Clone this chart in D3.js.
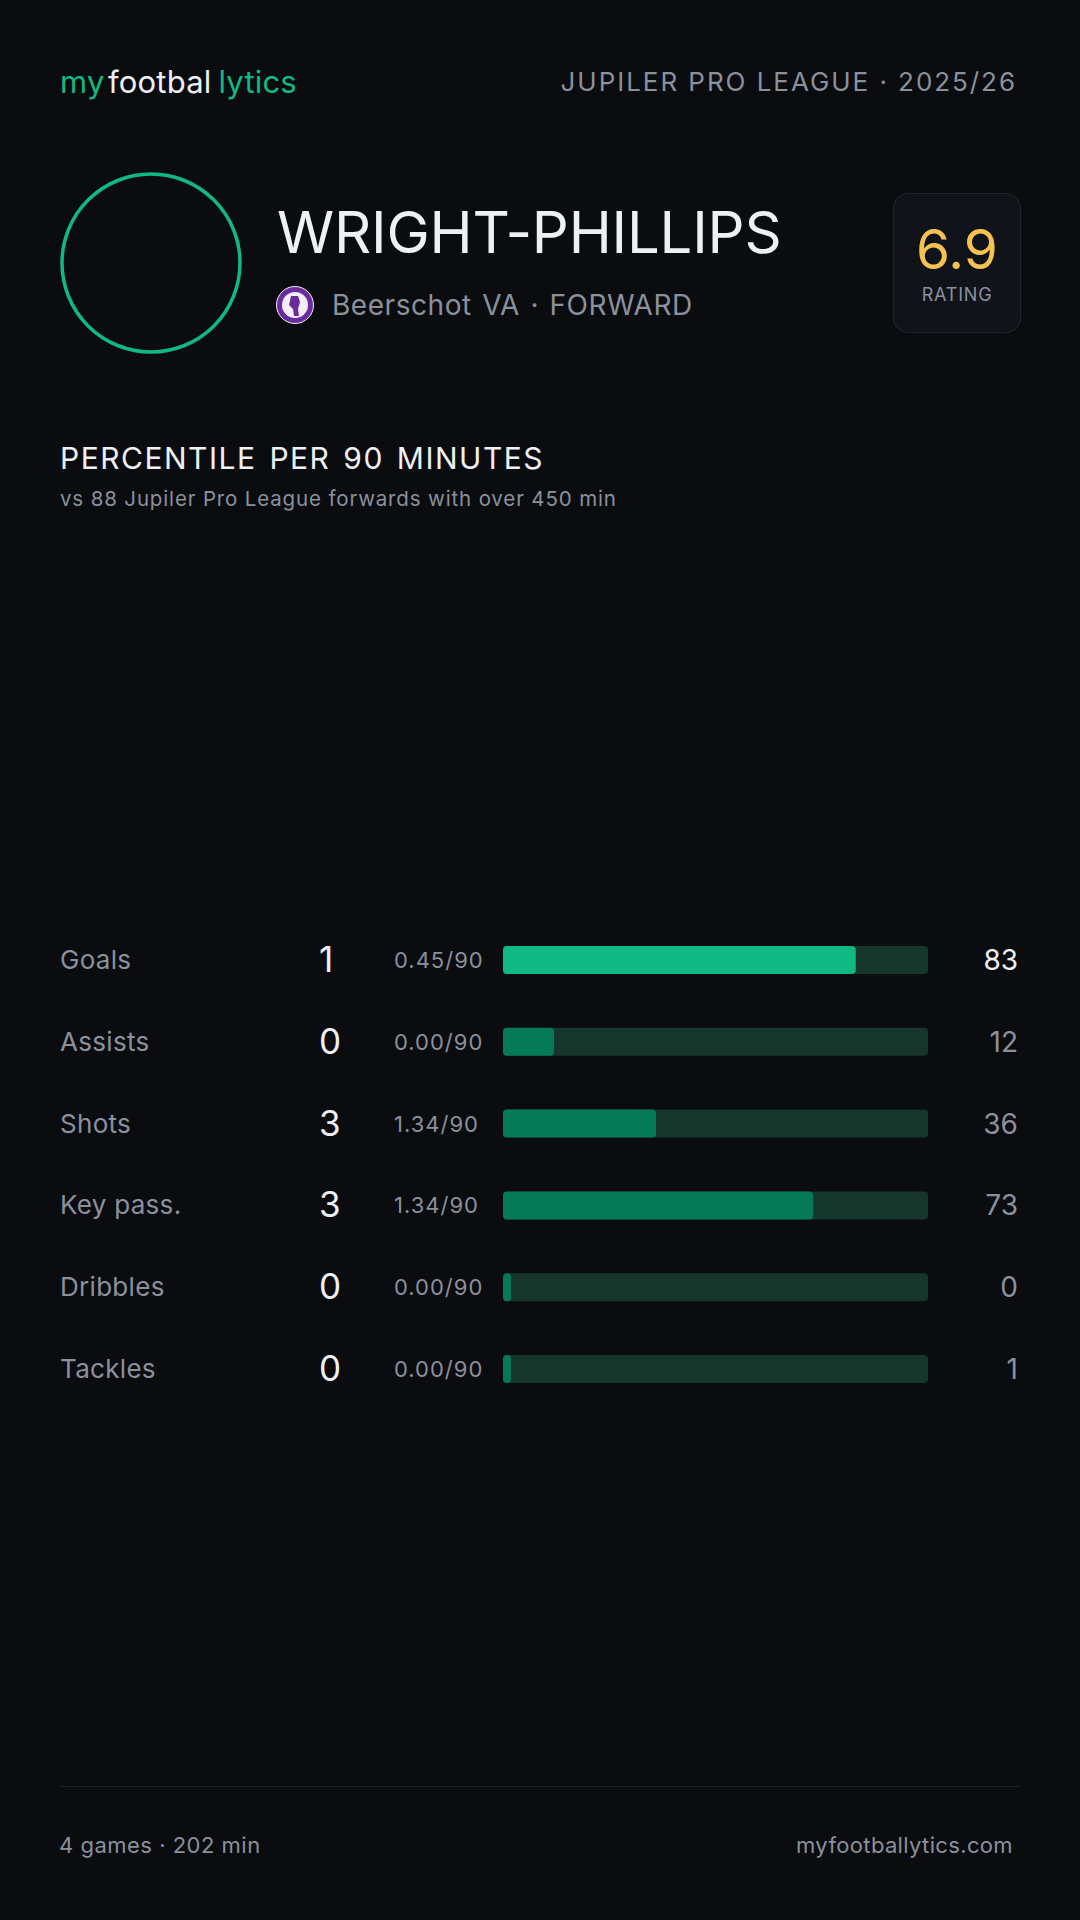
<!DOCTYPE html>
<html>
<head>
<meta charset="utf-8">
<script src="https://cdn.jsdelivr.net/npm/d3@7"></script>
<style>
  html, body { margin: 0; padding: 0; background: #0a0c10; }
  svg { display: block; font-family: Inter, "Noto Sans", sans-serif; }
</style>
</head>
<body>
<div id="card"></div>
<script>
// data

const statLabels = ["Goals", "Assists", "Shots", "Key pass.", "Dribbles", "Tackles"];
const statTotals = [1, 0, 3, 3, 0, 0];
const statPer90 = [0.45, 0.0, 1.34, 1.34, 0.0, 0.0];
const statPercentiles = [83, 12, 36, 73, 0, 1];

const playerName = "WRIGHT-PHILLIPS";
const clubLine = "Beerschot VA · FORWARD";
const leagueLine = "JUPILER PRO LEAGUE · 2025/26";
const rating = "6.9";
const footerLeft = "4 games · 202 min";
const footerRight = "myfootballytics.com";

const W = 1080, H = 1920;
const col = {
  bg: "#0a0c10",
  green: "#10b981",
  greenDark: "#067a56",
  track: "#16352b",
  white: "#eef0f3",
  gray: "#8b919c",
  yellow: "#f5c24f",
  line: "#1d2029"
};

const svg = d3.select("#card").append("svg")
  .attr("width", W)
  .attr("height", H);

svg.append("rect").attr("width", W).attr("height", H).attr("fill", col.bg);

// header

const logo = svg.append("text")
  .attr("x", 60)
  .attr("y", 93)
  .attr("font-size", 31)
  .attr("letter-spacing", 0.2);
logo.append("tspan").attr("fill", col.green).text("my");
logo.append("tspan").attr("fill", col.white).attr("dx", 3).text("footbal");
logo.append("tspan").attr("fill", col.green).attr("dx", 7).text("lytics");

svg.append("text")
  .attr("x", 1017)
  .attr("y", 91)
  .attr("text-anchor", "end")
  .attr("font-size", 26)
  .attr("letter-spacing", 1.95)
  .attr("fill", col.gray)
  .text(leagueLine);

// player block

svg.append("circle")
  .attr("cx", 151)
  .attr("cy", 263)
  .attr("r", 89)
  .attr("fill", "none")
  .attr("stroke", col.green)
  .attr("stroke-width", 3.5);

svg.append("text")
  .attr("x", 277)
  .attr("y", 253)
  .attr("font-size", 58)
  .attr("letter-spacing", -0.2)
  .attr("fill", col.white)
  .text(playerName);

// club crest (simplified)
const crest = svg.append("g").attr("transform", "translate(295,305)");
crest.append("circle").attr("r", 18.5).attr("fill", "#6a2c9c");
crest.append("circle").attr("r", 13).attr("fill", "#f3eef8");
crest.append("circle").attr("r", 18.5).attr("fill", "none").attr("stroke", "#f3eef8").attr("stroke-width", 1);
crest.append("path")
  .attr("d", "M-4,-9 L3,-9 L5,-3 L3,4 L4,11 L-1,11 L-2,4 L-6,0 Z")
  .attr("fill", "#6a2c9c");

svg.append("text")
  .attr("x", 332)
  .attr("y", 315)
  .attr("font-size", 28)
  .attr("letter-spacing", 0.55)
  .attr("word-spacing", 2)
  .attr("fill", col.gray)
  .text(clubLine);

// rating box
svg.append("rect")
  .attr("x", 893.5)
  .attr("y", 193.5)
  .attr("width", 127)
  .attr("height", 139)
  .attr("rx", 15)
  .attr("fill", "#10131a")
  .attr("stroke", "#1f232c")
  .attr("stroke-width", 1.2);

svg.append("text")
  .attr("x", 957)
  .attr("y", 269)
  .attr("text-anchor", "middle")
  .attr("font-size", 55)
  .attr("fill", col.yellow)
  .text(rating);

svg.append("text")
  .attr("x", 957)
  .attr("y", 301)
  .attr("text-anchor", "middle")
  .attr("font-size", 18)
  .attr("letter-spacing", 0.8)
  .attr("fill", col.gray)
  .text("RATING");

// section title

svg.append("text")
  .attr("x", 60)
  .attr("y", 469)
  .attr("font-size", 30)
  .attr("letter-spacing", 1.5)
  .attr("word-spacing", 3)
  .attr("fill", col.white)
  .text("PERCENTILE PER 90 MINUTES");

svg.append("text")
  .attr("x", 60)
  .attr("y", 506)
  .attr("font-size", 20.5)
  .attr("letter-spacing", 0.85)
  .attr("fill", col.gray)
  .text("vs 88 Jupiler Pro League forwards with over 450 min");

// bars

const x = d3.scaleLinear([0, 100], [503, 928]);
const y = d3.scalePoint(statLabels, [960, 1369]);
const barH = 28;
const minW = 8;

const rows = svg.append("g")
  .selectAll("g")
  .data(statLabels)
  .join("g")
  .attr("transform", (d) => `translate(0,${y(d)})`);

rows.append("text")
  .attr("x", 60)
  .attr("y", 9)
  .attr("font-size", 26)
  .attr("letter-spacing", 0.3)
  .attr("fill", col.gray)
  .text((d) => d);

rows.append("text")
  .attr("x", 319)
  .attr("y", 12)
  .attr("font-size", 35)
  .attr("fill", col.white)
  .text((d, i) => statTotals[i]);

rows.append("text")
  .attr("x", 394)
  .attr("y", 8)
  .attr("font-size", 22)
  .attr("letter-spacing", 1)
  .attr("fill", col.gray)
  .text((d, i) => statPer90[i].toFixed(2) + "/90");

rows.append("rect")
  .attr("x", x(0))
  .attr("y", -barH / 2)
  .attr("width", x(100) - x(0))
  .attr("height", barH)
  .attr("rx", 4)
  .attr("fill", col.track);

rows.append("rect")
  .attr("x", x(0))
  .attr("y", -barH / 2)
  .attr("width", (d, i) => Math.max(x(statPercentiles[i]) - x(0), minW))
  .attr("height", barH)
  .attr("rx", 4)
  .attr("fill", (d, i) => (statPercentiles[i] >= 80 ? col.green : col.greenDark));

rows.append("text")
  .attr("x", 1018)
  .attr("y", 10)
  .attr("text-anchor", "end")
  .attr("font-size", 28)
  .attr("fill", (d, i) => (statPercentiles[i] >= 80 ? col.white : col.gray))
  .text((d, i) => statPercentiles[i]);

// footer

svg.append("line")
  .attr("x1", 60)
  .attr("x2", 1020)
  .attr("y1", 1786.5)
  .attr("y2", 1786.5)
  .attr("stroke", col.line)
  .attr("stroke-width", 1);

svg.append("text")
  .attr("x", 59)
  .attr("y", 1853)
  .attr("font-size", 22)
  .attr("letter-spacing", 0.5)
  .attr("fill", col.gray)
  .text(footerLeft);

svg.append("text")
  .attr("x", 1013)
  .attr("y", 1853)
  .attr("text-anchor", "end")
  .attr("font-size", 22)
  .attr("letter-spacing", 0.35)
  .attr("fill", col.gray)
  .text(footerRight);
</script>
</body>
</html>
